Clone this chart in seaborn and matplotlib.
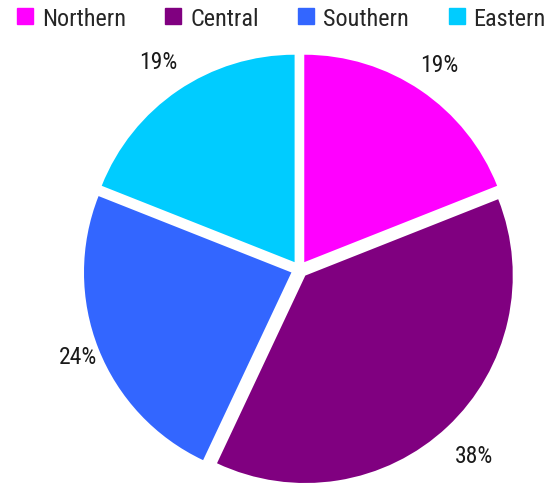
import matplotlib
matplotlib.use("Agg")
import numpy as np
import matplotlib.pyplot as plt
import seaborn as sns
from matplotlib.lines import Line2D

# ─── DATA ────────────────────────────────────────────────────────────────────
regions = ["Northern", "Central", "Southern", "Eastern"]
shares = [19, 38, 24, 19]
colors = ["#ff00ff", "#800080", "#3366ff", "#00ccff"]

# distance of each % label from its wedge centre (in radii)
label_dist = [1.155, 1.19, 1.105, 1.17]

# ─── STYLE ───────────────────────────────────────────────────────────────────
sns.set_theme(style="white", palette=sns.color_palette(colors))
plt.rcParams["font.family"] = ["Roboto Condensed", "DejaVu Sans"]

fig = plt.figure(figsize=(5.6, 4.85), dpi=100)
ax = fig.add_axes([0.0902, -0.0707, 0.889, 1.0268])

wedges, texts, autotexts = ax.pie(
    shares,
    colors=sns.color_palette(colors),
    startangle=90,
    counterclock=False,
    explode=[0.0415] * len(shares),
    autopct="%.0f%%",
    pctdistance=1.15,
    wedgeprops=dict(linewidth=0),
    textprops=dict(fontsize=17, color="#1a1a1a"),
)

# push the labels out a little, per wedge
for w, t, d in zip(wedges, autotexts, label_dist):
    mid = np.deg2rad((w.theta1 + w.theta2) / 2)
    cx, cy = w.center
    t.set_position((cx + d * np.cos(mid), cy + d * np.sin(mid)))

ax.set_xlim(-1.2, 1.2)
ax.set_ylim(-1.2, 1.2)
ax.set_aspect("equal")
ax.axis("off")

handles = [Line2D([], [], marker="s", linestyle="none", markersize=11,
                  markerfacecolor=c, markeredgecolor=c) for c in colors]
fig.legend(handles, regions, loc="upper center", bbox_to_anchor=(0.502, 0.992),
           ncol=4, frameon=False, fontsize=17.5, handletextpad=0.35,
           columnspacing=1.6, handlelength=0.7, borderpad=0.15,
           borderaxespad=0)

fig.savefig("out.png", dpi=100)
